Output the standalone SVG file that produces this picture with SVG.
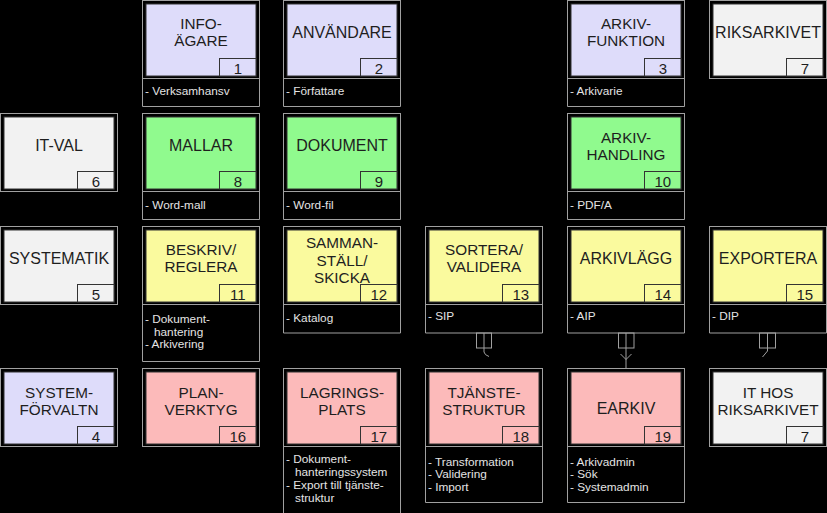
<svg xmlns="http://www.w3.org/2000/svg" width="827" height="513" viewBox="0 0 827 513">
<style>
.frame{fill:#000;stroke:#a0a0a0;stroke-width:1}
.lav{fill:#dedcfa;stroke:#333;stroke-width:1}
.grn{fill:#90fa8e;stroke:#333;stroke-width:1}
.yel{fill:#fafa9e;stroke:#333;stroke-width:1}
.pnk{fill:#fcbaba;stroke:#333;stroke-width:1}
.gry{fill:#f2f2f2;stroke:#333;stroke-width:1}
.title{font-family:"Liberation Sans",Arial,sans-serif;font-size:15.3px;fill:#1e1e1e;text-anchor:middle}
.t1{font-size:16px}
.num{font-family:"Liberation Sans",Arial,sans-serif;font-size:15px;fill:#1e1e1e;text-anchor:middle}
.note{fill:none;stroke:#a0a0a0;stroke-width:1}
.nt{font-family:"Liberation Sans",Arial,sans-serif;font-size:11.8px;fill:#e4e4e4}
.con{fill:none;stroke:#a0a0a0;stroke-width:1}
</style>
<rect x="0" y="0" width="827" height="513" fill="#000"/>

<!-- Row 0 -->
<g id="n1">
<path class="note" d="M142.5,78.5 V106.5 H259.5 V78.5"/>
<text class="nt" x="145" y="95">- Verksamhansv</text>
<rect class="frame" x="142.5" y="0.5" width="117" height="78"/>
<rect class="lav" x="146" y="4" width="110" height="72"/>
<rect class="lav" x="219.5" y="58.5" width="36.5" height="17.5"/>
<text class="num" x="237.8" y="73.5">1</text>
<text class="title" x="201" y="29.2">INFO-</text>
<text class="title" x="201" y="46.4">ÄGARE</text>
</g>
<g id="n2">
<path class="note" d="M283.5,78.5 V106.5 H400.5 V78.5"/>
<text class="nt" x="286" y="95">- Författare</text>
<rect class="frame" x="283.5" y="0.5" width="117" height="78"/>
<rect class="lav" x="287" y="4" width="110" height="72"/>
<rect class="lav" x="360.5" y="58.5" width="36.5" height="17.5"/>
<text class="num" x="378.8" y="73.5">2</text>
<text class="title t1" x="342" y="37.5">ANVÄNDARE</text>
</g>
<g id="n3">
<path class="note" d="M567.5,78.5 V106.5 H684.5 V78.5"/>
<text class="nt" x="570" y="95">- Arkivarie</text>
<rect class="frame" x="567.5" y="0.5" width="117" height="78"/>
<rect class="lav" x="571" y="4" width="110" height="72"/>
<rect class="lav" x="644.5" y="58.5" width="36.5" height="17.5"/>
<text class="num" x="662.8" y="73.5">3</text>
<text class="title" x="626" y="29.2">ARKIV-</text>
<text class="title" x="626" y="46.4">FUNKTION</text>
</g>
<g id="n7a">
<rect class="frame" x="709.5" y="0.5" width="117" height="78"/>
<rect class="gry" x="713" y="4" width="110" height="72"/>
<rect class="gry" x="786.5" y="58.5" width="36.5" height="17.5"/>
<text class="num" x="804.8" y="73.5">7</text>
<text class="title t1" x="768" y="37.5">RIKSARKIVET</text>
</g>

<!-- Row 1 -->
<g id="n6">
<rect class="frame" x="0.5" y="113.5" width="117" height="78"/>
<rect class="gry" x="4" y="117" width="110" height="72"/>
<rect class="gry" x="77.5" y="171.5" width="36.5" height="17.5"/>
<text class="num" x="95.8" y="186.5">6</text>
<text class="title t1" x="59" y="150.5">IT-VAL</text>
</g>
<g id="n8">
<path class="note" d="M142.5,191.5 V219.5 H259.5 V191.5"/>
<text class="nt" x="145" y="208.5">- Word-mall</text>
<rect class="frame" x="142.5" y="113.5" width="117" height="78"/>
<rect class="grn" x="146" y="117" width="110" height="72"/>
<rect class="grn" x="219.5" y="171.5" width="36.5" height="17.5"/>
<text class="num" x="237.8" y="186.5">8</text>
<text class="title t1" x="201" y="150.5">MALLAR</text>
</g>
<g id="n9">
<path class="note" d="M283.5,191.5 V219.5 H400.5 V191.5"/>
<text class="nt" x="286" y="208.5">- Word-fil</text>
<rect class="frame" x="283.5" y="113.5" width="117" height="78"/>
<rect class="grn" x="287" y="117" width="110" height="72"/>
<rect class="grn" x="360.5" y="171.5" width="36.5" height="17.5"/>
<text class="num" x="378.8" y="186.5">9</text>
<text class="title t1" x="342" y="150.5">DOKUMENT</text>
</g>
<g id="n10">
<path class="note" d="M567.5,191.5 V219.5 H684.5 V191.5"/>
<text class="nt" x="570" y="208.5">- PDF/A</text>
<rect class="frame" x="567.5" y="113.5" width="117" height="78"/>
<rect class="grn" x="571" y="117" width="110" height="72"/>
<rect class="grn" x="644.5" y="171.5" width="36.5" height="17.5"/>
<text class="num" x="662.8" y="186.5">10</text>
<text class="title" x="626" y="142.6">ARKIV-</text>
<text class="title" x="626" y="159.8">HANDLING</text>
</g>

<!-- Row 2 -->
<g id="n5">
<rect class="frame" x="0.5" y="226.5" width="117" height="78"/>
<rect class="gry" x="4" y="230" width="110" height="72"/>
<rect class="gry" x="77.5" y="284.5" width="36.5" height="17.5"/>
<text class="num" x="95.8" y="299.5">5</text>
<text class="title t1" x="59" y="263.5">SYSTEMATIK</text>
</g>
<g id="n11">
<path class="note" d="M142.5,304.5 V361.5 H259.5 V304.5"/>
<text class="nt" x="145" y="323">- Dokument-<tspan x="154" dy="12.8">hantering</tspan><tspan x="145" dy="12.5">- Arkivering</tspan></text>
<rect class="frame" x="142.5" y="226.5" width="117" height="78"/>
<rect class="yel" x="146" y="230" width="110" height="72"/>
<rect class="yel" x="219.5" y="284.5" width="36.5" height="17.5"/>
<text class="num" x="237.8" y="299.5">11</text>
<text class="title" x="201" y="255.2">BESKRIV/</text>
<text class="title" x="201" y="272.4">REGLERA</text>
</g>
<g id="n12">
<path class="note" d="M283.5,304.5 V333 H400.5 V304.5"/>
<text class="nt" x="286" y="321.5">- Katalog</text>
<rect class="frame" x="283.5" y="226.5" width="117" height="78"/>
<rect class="yel" x="287" y="230" width="110" height="72"/>
<rect class="yel" x="360.5" y="284.5" width="36.5" height="17.5"/>
<text class="num" x="378.8" y="299.5">12</text>
<text class="title" x="342" y="248.4">SAMMAN-</text>
<text class="title" x="342" y="265.6">STÄLL/</text>
<text class="title" x="342" y="282.8">SKICKA</text>
</g>
<g id="n13">
<path class="note" d="M425.5,304.5 V333 H542.5 V304.5"/>
<text class="nt" x="428" y="320">- SIP</text>
<rect class="frame" x="425.5" y="226.5" width="117" height="78"/>
<rect class="yel" x="429" y="230" width="110" height="72"/>
<rect class="yel" x="502.5" y="284.5" width="36.5" height="17.5"/>
<text class="num" x="520.8" y="299.5">13</text>
<text class="title" x="484" y="255.2">SORTERA/</text>
<text class="title" x="484" y="272.4">VALIDERA</text>
</g>
<g id="n14">
<path class="note" d="M567.5,304.5 V333 H684.5 V304.5"/>
<text class="nt" x="570" y="320">- AIP</text>
<rect class="frame" x="567.5" y="226.5" width="117" height="78"/>
<rect class="yel" x="571" y="230" width="110" height="72"/>
<rect class="yel" x="644.5" y="284.5" width="36.5" height="17.5"/>
<text class="num" x="662.8" y="299.5">14</text>
<text class="title t1" x="626" y="263.5">ARKIVLÄGG</text>
</g>
<g id="n15">
<path class="note" d="M709.5,304.5 V333 H826.5 V304.5"/>
<text class="nt" x="712" y="320">- DIP</text>
<rect class="frame" x="709.5" y="226.5" width="117" height="78"/>
<rect class="yel" x="713" y="230" width="110" height="72"/>
<rect class="yel" x="786.5" y="284.5" width="36.5" height="17.5"/>
<text class="num" x="804.8" y="299.5">15</text>
<text class="title t1" x="768" y="263.5">EXPORTERA</text>
</g>

<!-- Row 3 -->
<g id="n4">
<rect class="frame" x="0.5" y="368.5" width="117" height="78"/>
<rect class="lav" x="4" y="372" width="110" height="72"/>
<rect class="lav" x="77.5" y="426.5" width="36.5" height="17.5"/>
<text class="num" x="95.8" y="441.5">4</text>
<text class="title" x="59" y="397.6">SYSTEM-</text>
<text class="title" x="59" y="414.8">FÖRVALTN</text>
</g>
<g id="n16">
<rect class="frame" x="142.5" y="368.5" width="117" height="78"/>
<rect class="pnk" x="146" y="372" width="110" height="72"/>
<rect class="pnk" x="219.5" y="426.5" width="36.5" height="17.5"/>
<text class="num" x="237.8" y="441.5">16</text>
<text class="title" x="201" y="397.6">PLAN-</text>
<text class="title" x="201" y="414.8">VERKTYG</text>
</g>
<g id="n17">
<path class="note" d="M283.5,446.5 V514 M400.5,446.5 V514"/>
<text class="nt" x="286" y="463">- Dokument-<tspan x="295" dy="13">hanteringssystem</tspan><tspan x="286" dy="13">- Export till tjänste-</tspan><tspan x="295" dy="13">struktur</tspan></text>
<rect class="frame" x="283.5" y="368.5" width="117" height="78"/>
<rect class="pnk" x="287" y="372" width="110" height="72"/>
<rect class="pnk" x="360.5" y="426.5" width="36.5" height="17.5"/>
<text class="num" x="378.8" y="441.5">17</text>
<text class="title" x="342" y="397.6">LAGRINGS-</text>
<text class="title" x="342" y="414.8">PLATS</text>
</g>
<g id="n18">
<path class="note" d="M425.5,446.5 V502.5 H542.5 V446.5"/>
<text class="nt" x="428" y="465.5">- Transformation<tspan x="428" dy="12.5">- Validering</tspan><tspan x="428" dy="12.5">- Import</tspan></text>
<rect class="frame" x="425.5" y="368.5" width="117" height="78"/>
<rect class="pnk" x="429" y="372" width="110" height="72"/>
<rect class="pnk" x="502.5" y="426.5" width="36.5" height="17.5"/>
<text class="num" x="520.8" y="441.5">18</text>
<text class="title" x="484" y="397.6">TJÄNSTE-</text>
<text class="title" x="484" y="414.8">STRUKTUR</text>
</g>
<g id="n19">
<path class="note" d="M567.5,446.5 V502.5 H684.5 V446.5"/>
<text class="nt" x="570" y="465.5">- Arkivadmin<tspan x="570" dy="12.5">- Sök</tspan><tspan x="570" dy="12.5">- Systemadmin</tspan></text>
<rect class="frame" x="567.5" y="368.5" width="117" height="78"/>
<rect class="pnk" x="571" y="372" width="110" height="72"/>
<rect class="pnk" x="644.5" y="426.5" width="36.5" height="17.5"/>
<text class="num" x="662.8" y="441.5">19</text>
<text class="title t1" x="626" y="413.5">EARKIV</text>
</g>
<g id="n7b">
<rect class="frame" x="709.5" y="368.5" width="117" height="78"/>
<rect class="gry" x="713" y="372" width="110" height="72"/>
<rect class="gry" x="786.5" y="426.5" width="36.5" height="17.5"/>
<text class="num" x="804.8" y="441.5">7</text>
<text class="title" x="768" y="397.6">IT HOS</text>
<text class="title" x="768" y="414.8">RIKSARKIVET</text>
</g>

<!-- Connectors -->
<g id="connectors">
<rect class="con" x="476.5" y="333" width="15" height="15"/>
<path class="con" d="M484,333 V352 Q484.5,355 489,356.5"/>
<rect class="con" x="618.5" y="333" width="15.5" height="15"/>
<path class="con" d="M626,333 V368.5 M620.5,354 L626,359.5 L631.5,354"/>
<rect class="con" x="759.5" y="333" width="16" height="15"/>
<path class="con" d="M767.5,333 V351 L762.5,357"/>
</g>
</svg>
